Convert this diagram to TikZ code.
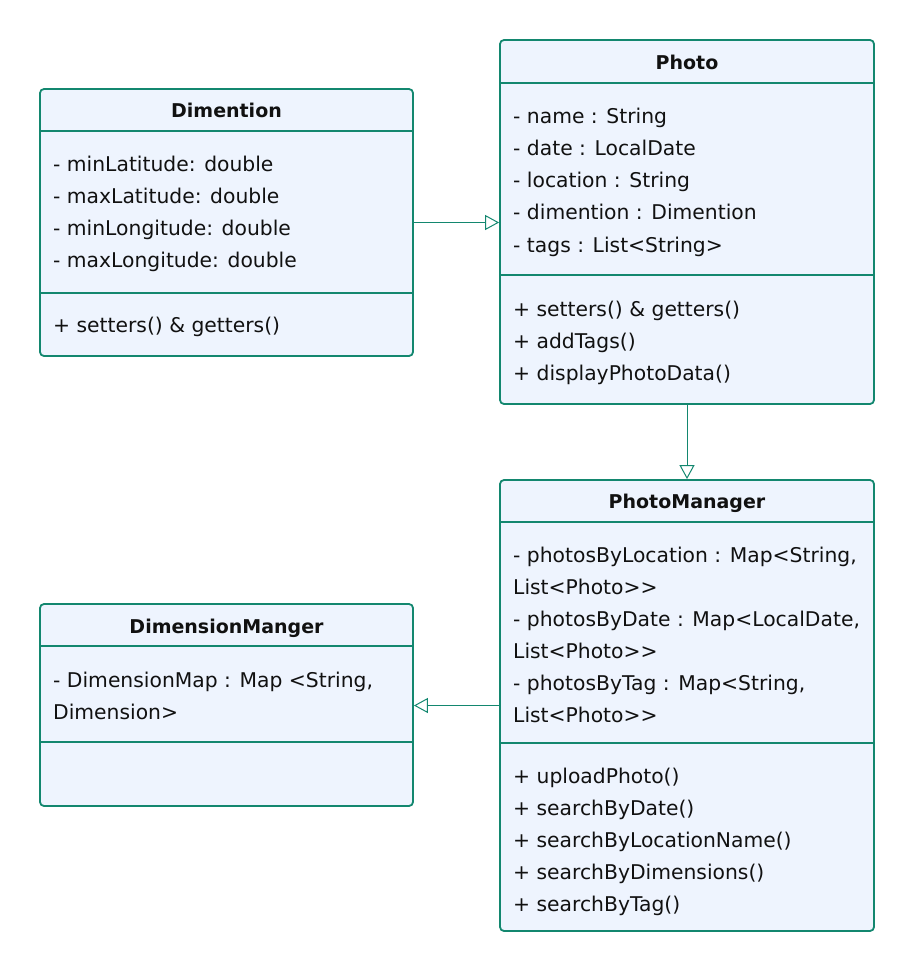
\documentclass[tikz,border=0pt]{standalone}
\usepackage{fontspec}
\setmainfont{DejaVu Sans}
\usepackage{tikz}
\usetikzlibrary{arrows.meta,positioning,calc}
\definecolor{umlline}{HTML}{13876F}
\definecolor{umlfill}{HTML}{EEF4FE}
\definecolor{umlink}{HTML}{111111}

\tikzset{
  classbox/.style={draw=umlline,line width=1.8pt,rounded corners=4pt,fill=umlfill,inner sep=0pt},
  divider/.style={umlline,line width=1.6pt},
  title/.style={font=\fontsize{19}{22}\selectfont\bfseries,text=umlink,anchor=base},
  member/.style={font=\fontsize{20.3}{24}\selectfont,text=umlink,anchor=base west,inner sep=0pt},
  inherit/.style={umlline,line width=1pt,-{Triangle[open,length=14pt,width=15pt]}}
}

\begin{document}
\begin{tikzpicture}[x=1pt,y=-1pt]
    \useasboundingbox (0,0) rectangle (914,972);
    % class boxes
    \node[classbox,minimum width=373pt,minimum height=267pt] (dim) at (226.5,222.5){};
    \node[classbox,minimum width=374pt,minimum height=364pt] (photo) at (687,222){};
    \node[classbox,minimum width=374pt,minimum height=451pt] (pm) at (687,705.5){};
    \node[classbox,minimum width=373pt,minimum height=202pt] (dm) at (226.5,705){};
    % compartments
    \draw[divider] (dim.west |- 0,131) -- (dim.east |- 0,131);
    \draw[divider] (dim.west |- 0,293) -- (dim.east |- 0,293);
    \draw[divider] (photo.west |- 0,83) -- (photo.east |- 0,83);
    \draw[divider] (photo.west |- 0,275) -- (photo.east |- 0,275);
    \draw[divider] (pm.west |- 0,522) -- (pm.east |- 0,522);
    \draw[divider] (pm.west |- 0,743) -- (pm.east |- 0,743);
    \draw[divider] (dm.west |- 0,646) -- (dm.east |- 0,646);
    \draw[divider] (dm.west |- 0,742) -- (dm.east |- 0,742);
    % titles
    \node[title] (dimT) at (226.5,117) {Dimention};
    \node[title] (photoT) at (687,69) {Photo};
    \node[title] (pmT) at (687,508) {PhotoManager};
    \node[title] (dmT) at (226.5,633) {DimensionManger};
    % members
    \foreach \t [count=\i from 0] in {- minLatitude: double, - maxLatitude: double, - minLongitude: double, - maxLongitude: double}{
      \node[member] (dimA\i) at (53,171+32.3*\i) {\t};
    }
    \node[member] (dimM0) at (53,332) {+ setters() \& getters()};
    \foreach \t [count=\i from 0] in {- name : String, - date : LocalDate, - location : String, - dimention : Dimention, - tags : List<String>}{
      \node[member] (photoA\i) at (513,123+32.3*\i) {\t};
    }
    \foreach \t [count=\i from 0] in {+ setters() \& getters(), + addTags(), + displayPhotoData()}{
      \node[member] (photoM\i) at (513,316+32.3*\i) {\t};
    }
    \foreach \t [count=\i from 0] in {{- photosByLocation : Map<String,}, List<Photo>{}>, {- photosByDate : Map<LocalDate,}, List<Photo>{}>, {- photosByTag : Map<String,}, List<Photo>{}>}{
      \node[member] (pmA\i) at (513,562+32*\i) {\t};
    }
    \foreach \t [count=\i from 0] in {+ uploadPhoto(), + searchByDate(), + searchByLocationName(), + searchByDimensions(), + searchByTag()}{
      \node[member] (pmM\i) at (513,783+32*\i) {\t};
    }
    \node[member] (dmA0) at (53,687) {- DimensionMap : Map <String,};
    \node[member] (dmA1) at (53,719) {Dimension>};
    % relations
    \draw[inherit] (dim.east) -- (photo.west |- dim.east);
    \draw[inherit] (photo.south) -- (pm.north);
    \draw[inherit] (pm.west) -- (dm.east |- pm.west);
  \end{tikzpicture}
\end{document}
